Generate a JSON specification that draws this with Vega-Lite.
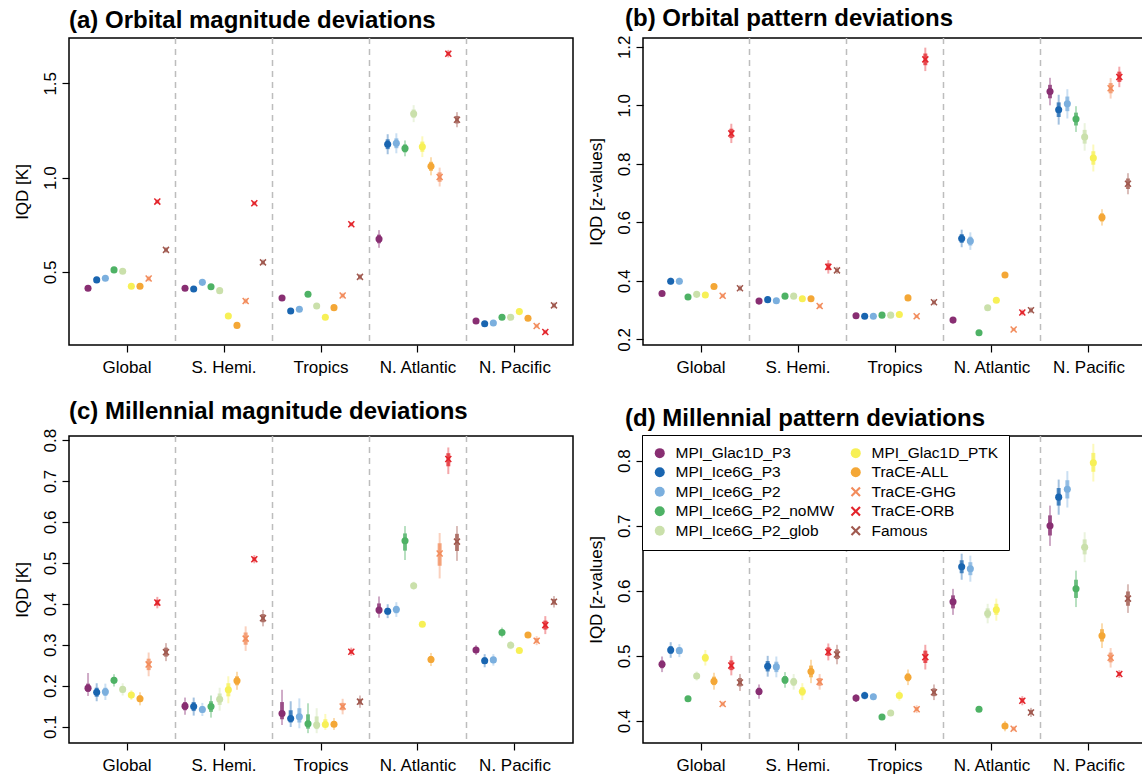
{
"$schema": "https://vega.github.io/schema/vega-lite/v6.json",
"padding": {"left": 12, "top": 6, "right": 0, "bottom": 0},
"bounds": "flush",
"columns": 2,
"spacing": {"row": 91, "column": 70},
"resolve": {"scale": {"color": "independent", "shape": "independent"}, "legend": {"color": "independent", "shape": "independent"}},
"config": {
  "font": "Liberation Sans",
  "view": {"stroke": "black", "strokeWidth": 1.5},
  "axis": {"domain": false, "grid": false, "tickColor": "black", "tickSize": 7, "tickWidth": 1.2, "labelColor": "black", "labelFontSize": 17, "titleFontSize": 17, "titleFontWeight": "normal", "titleColor": "black", "labelFont": "Liberation Sans", "titleFont": "Liberation Sans"},
  "axisY": {"labelAngle": 270, "labelAlign": "center", "labelBaseline": "bottom", "labelPadding": 3, "titlePadding": 10},
  "axisX": {"labelPadding": 7},
  "title": {"fontSize": 24, "fontWeight": "bold", "anchor": "start", "frame": "group", "color": "black", "font": "Liberation Sans", "offset": 4}
},
"datasets": {
"sep": [{"r": "S. Hemi."}, {"r": "Tropics"}, {"r": "N. Atlantic"}, {"r": "N. Pacific"}],
"d": [
{"p":"a","r":"Global","m":"MPI_Glac1D_P3","v":0.414,"lo":0.404,"hi":0.424,"l2":0.409,"h2":0.419},
{"p":"a","r":"Global","m":"MPI_Ice6G_P3","v":0.458,"lo":0.448,"hi":0.468,"l2":0.453,"h2":0.463},
{"p":"a","r":"Global","m":"MPI_Ice6G_P2","v":0.467,"lo":0.457,"hi":0.477,"l2":0.462,"h2":0.472},
{"p":"a","r":"Global","m":"MPI_Ice6G_P2_noMW","v":0.511,"lo":0.501,"hi":0.521,"l2":0.506,"h2":0.516},
{"p":"a","r":"Global","m":"MPI_Ice6G_P2_glob","v":0.504,"lo":0.494,"hi":0.514,"l2":0.499,"h2":0.509},
{"p":"a","r":"Global","m":"MPI_Glac1D_PTK","v":0.424,"lo":0.414,"hi":0.434,"l2":0.419,"h2":0.429},
{"p":"a","r":"Global","m":"TraCE-ALL","v":0.424,"lo":0.414,"hi":0.434,"l2":0.419,"h2":0.429},
{"p":"a","r":"Global","m":"TraCE-GHG","v":0.465,"lo":0.45,"hi":0.48,"l2":0.457,"h2":0.473},
{"p":"a","r":"Global","m":"TraCE-ORB","v":0.873,"lo":0.861,"hi":0.885,"l2":0.867,"h2":0.879},
{"p":"a","r":"Global","m":"Famous","v":0.617,"lo":0.602,"hi":0.632,"l2":0.609,"h2":0.625},
{"p":"a","r":"S. Hemi.","m":"MPI_Glac1D_P3","v":0.414,"lo":0.404,"hi":0.424,"l2":0.409,"h2":0.419},
{"p":"a","r":"S. Hemi.","m":"MPI_Ice6G_P3","v":0.41,"lo":0.4,"hi":0.42,"l2":0.405,"h2":0.415},
{"p":"a","r":"S. Hemi.","m":"MPI_Ice6G_P2","v":0.445,"lo":0.435,"hi":0.455,"l2":0.44,"h2":0.45},
{"p":"a","r":"S. Hemi.","m":"MPI_Ice6G_P2_noMW","v":0.422,"lo":0.412,"hi":0.432,"l2":0.417,"h2":0.427},
{"p":"a","r":"S. Hemi.","m":"MPI_Ice6G_P2_glob","v":0.401,"lo":0.391,"hi":0.411,"l2":0.396,"h2":0.406},
{"p":"a","r":"S. Hemi.","m":"MPI_Glac1D_PTK","v":0.267,"lo":0.257,"hi":0.277,"l2":0.262,"h2":0.272},
{"p":"a","r":"S. Hemi.","m":"TraCE-ALL","v":0.217,"lo":0.207,"hi":0.227,"l2":0.212,"h2":0.222},
{"p":"a","r":"S. Hemi.","m":"TraCE-GHG","v":0.346,"lo":0.331,"hi":0.361,"l2":0.338,"h2":0.354},
{"p":"a","r":"S. Hemi.","m":"TraCE-ORB","v":0.864,"lo":0.852,"hi":0.876,"l2":0.858,"h2":0.87},
{"p":"a","r":"S. Hemi.","m":"Famous","v":0.551,"lo":0.536,"hi":0.566,"l2":0.543,"h2":0.559},
{"p":"a","r":"Tropics","m":"MPI_Glac1D_P3","v":0.362,"lo":0.352,"hi":0.372,"l2":0.357,"h2":0.367},
{"p":"a","r":"Tropics","m":"MPI_Ice6G_P3","v":0.293,"lo":0.283,"hi":0.303,"l2":0.288,"h2":0.298},
{"p":"a","r":"Tropics","m":"MPI_Ice6G_P2","v":0.302,"lo":0.292,"hi":0.312,"l2":0.297,"h2":0.307},
{"p":"a","r":"Tropics","m":"MPI_Ice6G_P2_noMW","v":0.382,"lo":0.372,"hi":0.392,"l2":0.377,"h2":0.387},
{"p":"a","r":"Tropics","m":"MPI_Ice6G_P2_glob","v":0.32,"lo":0.31,"hi":0.33,"l2":0.315,"h2":0.325},
{"p":"a","r":"Tropics","m":"MPI_Glac1D_PTK","v":0.26,"lo":0.25,"hi":0.27,"l2":0.255,"h2":0.265},
{"p":"a","r":"Tropics","m":"TraCE-ALL","v":0.311,"lo":0.301,"hi":0.321,"l2":0.306,"h2":0.316},
{"p":"a","r":"Tropics","m":"TraCE-GHG","v":0.375,"lo":0.36,"hi":0.39,"l2":0.367,"h2":0.383},
{"p":"a","r":"Tropics","m":"TraCE-ORB","v":0.753,"lo":0.741,"hi":0.765,"l2":0.747,"h2":0.759},
{"p":"a","r":"Tropics","m":"Famous","v":0.474,"lo":0.459,"hi":0.489,"l2":0.466,"h2":0.482},
{"p":"a","r":"N. Atlantic","m":"MPI_Glac1D_P3","v":0.675,"lo":0.628,"hi":0.722,"l2":0.652,"h2":0.698},
{"p":"a","r":"N. Atlantic","m":"MPI_Ice6G_P3","v":1.177,"lo":1.124,"hi":1.23,"l2":1.151,"h2":1.203},
{"p":"a","r":"N. Atlantic","m":"MPI_Ice6G_P2","v":1.182,"lo":1.129,"hi":1.235,"l2":1.156,"h2":1.208},
{"p":"a","r":"N. Atlantic","m":"MPI_Ice6G_P2_noMW","v":1.155,"lo":1.113,"hi":1.197,"l2":1.134,"h2":1.176},
{"p":"a","r":"N. Atlantic","m":"MPI_Ice6G_P2_glob","v":1.339,"lo":1.294,"hi":1.384,"l2":1.317,"h2":1.361},
{"p":"a","r":"N. Atlantic","m":"MPI_Glac1D_PTK","v":1.164,"lo":1.109,"hi":1.219,"l2":1.137,"h2":1.191},
{"p":"a","r":"N. Atlantic","m":"TraCE-ALL","v":1.06,"lo":1.012,"hi":1.108,"l2":1.036,"h2":1.084},
{"p":"a","r":"N. Atlantic","m":"TraCE-GHG","v":1.003,"lo":0.953,"hi":1.053,"l2":0.978,"h2":1.028},
{"p":"a","r":"N. Atlantic","m":"TraCE-ORB","v":1.657,"lo":1.637,"hi":1.677,"l2":1.647,"h2":1.667},
{"p":"a","r":"N. Atlantic","m":"Famous","v":1.307,"lo":1.267,"hi":1.347,"l2":1.287,"h2":1.327},
{"p":"a","r":"N. Pacific","m":"MPI_Glac1D_P3","v":0.24,"lo":0.23,"hi":0.25,"l2":0.235,"h2":0.245},
{"p":"a","r":"N. Pacific","m":"MPI_Ice6G_P3","v":0.226,"lo":0.216,"hi":0.236,"l2":0.221,"h2":0.231},
{"p":"a","r":"N. Pacific","m":"MPI_Ice6G_P2","v":0.23,"lo":0.22,"hi":0.24,"l2":0.225,"h2":0.235},
{"p":"a","r":"N. Pacific","m":"MPI_Ice6G_P2_noMW","v":0.26,"lo":0.25,"hi":0.27,"l2":0.255,"h2":0.265},
{"p":"a","r":"N. Pacific","m":"MPI_Ice6G_P2_glob","v":0.26,"lo":0.25,"hi":0.27,"l2":0.255,"h2":0.265},
{"p":"a","r":"N. Pacific","m":"MPI_Glac1D_PTK","v":0.29,"lo":0.28,"hi":0.3,"l2":0.285,"h2":0.295},
{"p":"a","r":"N. Pacific","m":"TraCE-ALL","v":0.255,"lo":0.245,"hi":0.265,"l2":0.25,"h2":0.26},
{"p":"a","r":"N. Pacific","m":"TraCE-GHG","v":0.214,"lo":0.202,"hi":0.226,"l2":0.208,"h2":0.22},
{"p":"a","r":"N. Pacific","m":"TraCE-ORB","v":0.182,"lo":0.17,"hi":0.194,"l2":0.176,"h2":0.188},
{"p":"a","r":"N. Pacific","m":"Famous","v":0.323,"lo":0.308,"hi":0.338,"l2":0.315,"h2":0.331},

{"p":"b","r":"Global","m":"MPI_Glac1D_P3","v":0.357,"lo":0.349,"hi":0.365,"l2":0.353,"h2":0.361},
{"p":"b","r":"Global","m":"MPI_Ice6G_P3","v":0.399,"lo":0.387,"hi":0.411,"l2":0.393,"h2":0.405},
{"p":"b","r":"Global","m":"MPI_Ice6G_P2","v":0.399,"lo":0.387,"hi":0.411,"l2":0.393,"h2":0.405},
{"p":"b","r":"Global","m":"MPI_Ice6G_P2_noMW","v":0.345,"lo":0.337,"hi":0.353,"l2":0.341,"h2":0.349},
{"p":"b","r":"Global","m":"MPI_Ice6G_P2_glob","v":0.354,"lo":0.346,"hi":0.362,"l2":0.35,"h2":0.358},
{"p":"b","r":"Global","m":"MPI_Glac1D_PTK","v":0.352,"lo":0.344,"hi":0.36,"l2":0.348,"h2":0.356},
{"p":"b","r":"Global","m":"TraCE-ALL","v":0.381,"lo":0.373,"hi":0.389,"l2":0.377,"h2":0.385},
{"p":"b","r":"Global","m":"TraCE-GHG","v":0.349,"lo":0.341,"hi":0.357,"l2":0.345,"h2":0.353},
{"p":"b","r":"Global","m":"TraCE-ORB","v":0.904,"lo":0.871,"hi":0.937,"l2":0.888,"h2":0.92},
{"p":"b","r":"Global","m":"Famous","v":0.375,"lo":0.365,"hi":0.385,"l2":0.37,"h2":0.38},
{"p":"b","r":"S. Hemi.","m":"MPI_Glac1D_P3","v":0.331,"lo":0.323,"hi":0.339,"l2":0.327,"h2":0.335},
{"p":"b","r":"S. Hemi.","m":"MPI_Ice6G_P3","v":0.336,"lo":0.328,"hi":0.344,"l2":0.332,"h2":0.34},
{"p":"b","r":"S. Hemi.","m":"MPI_Ice6G_P2","v":0.332,"lo":0.324,"hi":0.34,"l2":0.328,"h2":0.336},
{"p":"b","r":"S. Hemi.","m":"MPI_Ice6G_P2_noMW","v":0.348,"lo":0.34,"hi":0.356,"l2":0.344,"h2":0.352},
{"p":"b","r":"S. Hemi.","m":"MPI_Ice6G_P2_glob","v":0.348,"lo":0.34,"hi":0.356,"l2":0.344,"h2":0.352},
{"p":"b","r":"S. Hemi.","m":"MPI_Glac1D_PTK","v":0.339,"lo":0.331,"hi":0.347,"l2":0.335,"h2":0.343},
{"p":"b","r":"S. Hemi.","m":"TraCE-ALL","v":0.339,"lo":0.331,"hi":0.347,"l2":0.335,"h2":0.343},
{"p":"b","r":"S. Hemi.","m":"TraCE-GHG","v":0.314,"lo":0.306,"hi":0.322,"l2":0.31,"h2":0.318},
{"p":"b","r":"S. Hemi.","m":"TraCE-ORB","v":0.448,"lo":0.425,"hi":0.471,"l2":0.437,"h2":0.46},
{"p":"b","r":"S. Hemi.","m":"Famous","v":0.436,"lo":0.424,"hi":0.448,"l2":0.43,"h2":0.442},
{"p":"b","r":"Tropics","m":"MPI_Glac1D_P3","v":0.281,"lo":0.275,"hi":0.287,"l2":0.278,"h2":0.284},
{"p":"b","r":"Tropics","m":"MPI_Ice6G_P3","v":0.279,"lo":0.273,"hi":0.285,"l2":0.276,"h2":0.282},
{"p":"b","r":"Tropics","m":"MPI_Ice6G_P2","v":0.279,"lo":0.273,"hi":0.285,"l2":0.276,"h2":0.282},
{"p":"b","r":"Tropics","m":"MPI_Ice6G_P2_noMW","v":0.283,"lo":0.277,"hi":0.289,"l2":0.28,"h2":0.286},
{"p":"b","r":"Tropics","m":"MPI_Ice6G_P2_glob","v":0.283,"lo":0.277,"hi":0.289,"l2":0.28,"h2":0.286},
{"p":"b","r":"Tropics","m":"MPI_Glac1D_PTK","v":0.285,"lo":0.279,"hi":0.291,"l2":0.282,"h2":0.288},
{"p":"b","r":"Tropics","m":"TraCE-ALL","v":0.342,"lo":0.336,"hi":0.348,"l2":0.339,"h2":0.345},
{"p":"b","r":"Tropics","m":"TraCE-GHG","v":0.279,"lo":0.273,"hi":0.285,"l2":0.276,"h2":0.282},
{"p":"b","r":"Tropics","m":"TraCE-ORB","v":1.157,"lo":1.117,"hi":1.197,"l2":1.137,"h2":1.177},
{"p":"b","r":"Tropics","m":"Famous","v":0.327,"lo":0.317,"hi":0.337,"l2":0.322,"h2":0.332},
{"p":"b","r":"N. Atlantic","m":"MPI_Glac1D_P3","v":0.266,"lo":0.26,"hi":0.272,"l2":0.263,"h2":0.269},
{"p":"b","r":"N. Atlantic","m":"MPI_Ice6G_P3","v":0.545,"lo":0.515,"hi":0.575,"l2":0.53,"h2":0.56},
{"p":"b","r":"N. Atlantic","m":"MPI_Ice6G_P2","v":0.536,"lo":0.506,"hi":0.566,"l2":0.521,"h2":0.551},
{"p":"b","r":"N. Atlantic","m":"MPI_Ice6G_P2_noMW","v":0.223,"lo":0.217,"hi":0.229,"l2":0.22,"h2":0.226},
{"p":"b","r":"N. Atlantic","m":"MPI_Ice6G_P2_glob","v":0.308,"lo":0.302,"hi":0.314,"l2":0.305,"h2":0.311},
{"p":"b","r":"N. Atlantic","m":"MPI_Glac1D_PTK","v":0.334,"lo":0.328,"hi":0.34,"l2":0.331,"h2":0.337},
{"p":"b","r":"N. Atlantic","m":"TraCE-ALL","v":0.42,"lo":0.41,"hi":0.43,"l2":0.415,"h2":0.425},
{"p":"b","r":"N. Atlantic","m":"TraCE-GHG","v":0.234,"lo":0.228,"hi":0.24,"l2":0.231,"h2":0.237},
{"p":"b","r":"N. Atlantic","m":"TraCE-ORB","v":0.292,"lo":0.282,"hi":0.302,"l2":0.287,"h2":0.297},
{"p":"b","r":"N. Atlantic","m":"Famous","v":0.3,"lo":0.29,"hi":0.31,"l2":0.295,"h2":0.305},
{"p":"b","r":"N. Pacific","m":"MPI_Glac1D_P3","v":1.047,"lo":1.0,"hi":1.094,"l2":1.024,"h2":1.07},
{"p":"b","r":"N. Pacific","m":"MPI_Ice6G_P3","v":0.985,"lo":0.934,"hi":1.036,"l2":0.96,"h2":1.01},
{"p":"b","r":"N. Pacific","m":"MPI_Ice6G_P2","v":1.005,"lo":0.955,"hi":1.055,"l2":0.98,"h2":1.03},
{"p":"b","r":"N. Pacific","m":"MPI_Ice6G_P2_noMW","v":0.953,"lo":0.909,"hi":0.997,"l2":0.931,"h2":0.975},
{"p":"b","r":"N. Pacific","m":"MPI_Ice6G_P2_glob","v":0.892,"lo":0.845,"hi":0.939,"l2":0.869,"h2":0.916},
{"p":"b","r":"N. Pacific","m":"MPI_Glac1D_PTK","v":0.82,"lo":0.774,"hi":0.866,"l2":0.797,"h2":0.843},
{"p":"b","r":"N. Pacific","m":"TraCE-ALL","v":0.617,"lo":0.589,"hi":0.645,"l2":0.603,"h2":0.631},
{"p":"b","r":"N. Pacific","m":"TraCE-GHG","v":1.058,"lo":1.023,"hi":1.093,"l2":1.041,"h2":1.076},
{"p":"b","r":"N. Pacific","m":"TraCE-ORB","v":1.097,"lo":1.062,"hi":1.132,"l2":1.08,"h2":1.115},
{"p":"b","r":"N. Pacific","m":"Famous","v":0.732,"lo":0.696,"hi":0.768,"l2":0.714,"h2":0.75},

{"p":"c","r":"Global","m":"MPI_Glac1D_P3","v":0.194,"lo":0.175,"hi":0.231,"l2":0.185,"h2":0.205},
{"p":"c","r":"Global","m":"MPI_Ice6G_P3","v":0.184,"lo":0.162,"hi":0.206,"l2":0.173,"h2":0.195},
{"p":"c","r":"Global","m":"MPI_Ice6G_P2","v":0.185,"lo":0.165,"hi":0.205,"l2":0.175,"h2":0.195},
{"p":"c","r":"Global","m":"MPI_Ice6G_P2_noMW","v":0.213,"lo":0.198,"hi":0.228,"l2":0.206,"h2":0.22},
{"p":"c","r":"Global","m":"MPI_Ice6G_P2_glob","v":0.191,"lo":0.176,"hi":0.206,"l2":0.184,"h2":0.198},
{"p":"c","r":"Global","m":"MPI_Glac1D_PTK","v":0.177,"lo":0.165,"hi":0.189,"l2":0.171,"h2":0.183},
{"p":"c","r":"Global","m":"TraCE-ALL","v":0.168,"lo":0.152,"hi":0.184,"l2":0.16,"h2":0.176},
{"p":"c","r":"Global","m":"TraCE-GHG","v":0.252,"lo":0.223,"hi":0.281,"l2":0.238,"h2":0.266},
{"p":"c","r":"Global","m":"TraCE-ORB","v":0.403,"lo":0.389,"hi":0.417,"l2":0.396,"h2":0.41},
{"p":"c","r":"Global","m":"Famous","v":0.282,"lo":0.26,"hi":0.304,"l2":0.271,"h2":0.293},
{"p":"c","r":"S. Hemi.","m":"MPI_Glac1D_P3","v":0.15,"lo":0.129,"hi":0.171,"l2":0.14,"h2":0.16},
{"p":"c","r":"S. Hemi.","m":"MPI_Ice6G_P3","v":0.149,"lo":0.127,"hi":0.171,"l2":0.138,"h2":0.16},
{"p":"c","r":"S. Hemi.","m":"MPI_Ice6G_P2","v":0.142,"lo":0.126,"hi":0.158,"l2":0.134,"h2":0.15},
{"p":"c","r":"S. Hemi.","m":"MPI_Ice6G_P2_noMW","v":0.149,"lo":0.122,"hi":0.176,"l2":0.136,"h2":0.162},
{"p":"c","r":"S. Hemi.","m":"MPI_Ice6G_P2_glob","v":0.167,"lo":0.139,"hi":0.195,"l2":0.153,"h2":0.181},
{"p":"c","r":"S. Hemi.","m":"MPI_Glac1D_PTK","v":0.19,"lo":0.157,"hi":0.223,"l2":0.174,"h2":0.206},
{"p":"c","r":"S. Hemi.","m":"TraCE-ALL","v":0.212,"lo":0.19,"hi":0.234,"l2":0.201,"h2":0.223},
{"p":"c","r":"S. Hemi.","m":"TraCE-GHG","v":0.315,"lo":0.285,"hi":0.345,"l2":0.3,"h2":0.33},
{"p":"c","r":"S. Hemi.","m":"TraCE-ORB","v":0.509,"lo":0.499,"hi":0.519,"l2":0.504,"h2":0.514},
{"p":"c","r":"S. Hemi.","m":"Famous","v":0.365,"lo":0.345,"hi":0.385,"l2":0.355,"h2":0.375},
{"p":"c","r":"Tropics","m":"MPI_Glac1D_P3","v":0.132,"lo":0.104,"hi":0.19,"l2":0.118,"h2":0.16},
{"p":"c","r":"Tropics","m":"MPI_Ice6G_P3","v":0.12,"lo":0.099,"hi":0.162,"l2":0.11,"h2":0.14},
{"p":"c","r":"Tropics","m":"MPI_Ice6G_P2","v":0.124,"lo":0.096,"hi":0.169,"l2":0.11,"h2":0.145},
{"p":"c","r":"Tropics","m":"MPI_Ice6G_P2_noMW","v":0.107,"lo":0.084,"hi":0.157,"l2":0.095,"h2":0.13},
{"p":"c","r":"Tropics","m":"MPI_Ice6G_P2_glob","v":0.104,"lo":0.084,"hi":0.145,"l2":0.094,"h2":0.125},
{"p":"c","r":"Tropics","m":"MPI_Glac1D_PTK","v":0.105,"lo":0.092,"hi":0.131,"l2":0.099,"h2":0.118},
{"p":"c","r":"Tropics","m":"TraCE-ALL","v":0.106,"lo":0.092,"hi":0.121,"l2":0.099,"h2":0.113},
{"p":"c","r":"Tropics","m":"TraCE-GHG","v":0.149,"lo":0.13,"hi":0.168,"l2":0.14,"h2":0.158},
{"p":"c","r":"Tropics","m":"TraCE-ORB","v":0.283,"lo":0.273,"hi":0.293,"l2":0.278,"h2":0.288},
{"p":"c","r":"Tropics","m":"Famous","v":0.161,"lo":0.146,"hi":0.176,"l2":0.154,"h2":0.168},
{"p":"c","r":"N. Atlantic","m":"MPI_Glac1D_P3","v":0.385,"lo":0.366,"hi":0.418,"l2":0.376,"h2":0.401},
{"p":"c","r":"N. Atlantic","m":"MPI_Ice6G_P3","v":0.382,"lo":0.365,"hi":0.399,"l2":0.374,"h2":0.39},
{"p":"c","r":"N. Atlantic","m":"MPI_Ice6G_P2","v":0.386,"lo":0.368,"hi":0.404,"l2":0.377,"h2":0.395},
{"p":"c","r":"N. Atlantic","m":"MPI_Ice6G_P2_noMW","v":0.554,"lo":0.507,"hi":0.59,"l2":0.53,"h2":0.572},
{"p":"c","r":"N. Atlantic","m":"MPI_Ice6G_P2_glob","v":0.444,"lo":0.434,"hi":0.454,"l2":0.439,"h2":0.449},
{"p":"c","r":"N. Atlantic","m":"MPI_Glac1D_PTK","v":0.35,"lo":0.344,"hi":0.356,"l2":0.347,"h2":0.353},
{"p":"c","r":"N. Atlantic","m":"TraCE-ALL","v":0.264,"lo":0.248,"hi":0.28,"l2":0.256,"h2":0.272},
{"p":"c","r":"N. Atlantic","m":"TraCE-GHG","v":0.523,"lo":0.462,"hi":0.573,"l2":0.493,"h2":0.548},
{"p":"c","r":"N. Atlantic","m":"TraCE-ORB","v":0.754,"lo":0.717,"hi":0.782,"l2":0.736,"h2":0.768},
{"p":"c","r":"N. Atlantic","m":"Famous","v":0.552,"lo":0.505,"hi":0.59,"l2":0.529,"h2":0.571},
{"p":"c","r":"N. Pacific","m":"MPI_Glac1D_P3","v":0.287,"lo":0.275,"hi":0.299,"l2":0.281,"h2":0.293},
{"p":"c","r":"N. Pacific","m":"MPI_Ice6G_P3","v":0.261,"lo":0.245,"hi":0.277,"l2":0.253,"h2":0.269},
{"p":"c","r":"N. Pacific","m":"MPI_Ice6G_P2","v":0.263,"lo":0.249,"hi":0.277,"l2":0.256,"h2":0.27},
{"p":"c","r":"N. Pacific","m":"MPI_Ice6G_P2_noMW","v":0.33,"lo":0.318,"hi":0.342,"l2":0.324,"h2":0.336},
{"p":"c","r":"N. Pacific","m":"MPI_Ice6G_P2_glob","v":0.299,"lo":0.289,"hi":0.309,"l2":0.294,"h2":0.304},
{"p":"c","r":"N. Pacific","m":"MPI_Glac1D_PTK","v":0.286,"lo":0.28,"hi":0.292,"l2":0.283,"h2":0.289},
{"p":"c","r":"N. Pacific","m":"TraCE-ALL","v":0.324,"lo":0.318,"hi":0.33,"l2":0.321,"h2":0.327},
{"p":"c","r":"N. Pacific","m":"TraCE-GHG","v":0.31,"lo":0.299,"hi":0.321,"l2":0.305,"h2":0.316},
{"p":"c","r":"N. Pacific","m":"TraCE-ORB","v":0.348,"lo":0.326,"hi":0.37,"l2":0.337,"h2":0.359},
{"p":"c","r":"N. Pacific","m":"Famous","v":0.405,"lo":0.391,"hi":0.419,"l2":0.398,"h2":0.412},

{"p":"d","r":"Global","m":"MPI_Glac1D_P3","v":0.487,"lo":0.475,"hi":0.499,"l2":0.481,"h2":0.493},
{"p":"d","r":"Global","m":"MPI_Ice6G_P3","v":0.509,"lo":0.497,"hi":0.521,"l2":0.503,"h2":0.515},
{"p":"d","r":"Global","m":"MPI_Ice6G_P2","v":0.508,"lo":0.498,"hi":0.518,"l2":0.503,"h2":0.513},
{"p":"d","r":"Global","m":"MPI_Ice6G_P2_noMW","v":0.434,"lo":0.43,"hi":0.438,"l2":0.432,"h2":0.436},
{"p":"d","r":"Global","m":"MPI_Ice6G_P2_glob","v":0.469,"lo":0.462,"hi":0.476,"l2":0.466,"h2":0.473},
{"p":"d","r":"Global","m":"MPI_Glac1D_PTK","v":0.497,"lo":0.485,"hi":0.509,"l2":0.491,"h2":0.503},
{"p":"d","r":"Global","m":"TraCE-ALL","v":0.461,"lo":0.448,"hi":0.474,"l2":0.455,"h2":0.468},
{"p":"d","r":"Global","m":"TraCE-GHG","v":0.426,"lo":0.422,"hi":0.43,"l2":0.424,"h2":0.428},
{"p":"d","r":"Global","m":"TraCE-ORB","v":0.485,"lo":0.47,"hi":0.5,"l2":0.478,"h2":0.493},
{"p":"d","r":"Global","m":"Famous","v":0.459,"lo":0.446,"hi":0.472,"l2":0.453,"h2":0.466},
{"p":"d","r":"S. Hemi.","m":"MPI_Glac1D_P3","v":0.445,"lo":0.434,"hi":0.456,"l2":0.44,"h2":0.451},
{"p":"d","r":"S. Hemi.","m":"MPI_Ice6G_P3","v":0.484,"lo":0.468,"hi":0.5,"l2":0.476,"h2":0.492},
{"p":"d","r":"S. Hemi.","m":"MPI_Ice6G_P2","v":0.483,"lo":0.467,"hi":0.499,"l2":0.475,"h2":0.491},
{"p":"d","r":"S. Hemi.","m":"MPI_Ice6G_P2_noMW","v":0.463,"lo":0.451,"hi":0.475,"l2":0.457,"h2":0.469},
{"p":"d","r":"S. Hemi.","m":"MPI_Ice6G_P2_glob","v":0.46,"lo":0.448,"hi":0.472,"l2":0.454,"h2":0.466},
{"p":"d","r":"S. Hemi.","m":"MPI_Glac1D_PTK","v":0.445,"lo":0.432,"hi":0.458,"l2":0.439,"h2":0.452},
{"p":"d","r":"S. Hemi.","m":"TraCE-ALL","v":0.476,"lo":0.458,"hi":0.494,"l2":0.467,"h2":0.485},
{"p":"d","r":"S. Hemi.","m":"TraCE-GHG","v":0.46,"lo":0.448,"hi":0.472,"l2":0.454,"h2":0.466},
{"p":"d","r":"S. Hemi.","m":"TraCE-ORB","v":0.506,"lo":0.493,"hi":0.519,"l2":0.5,"h2":0.513},
{"p":"d","r":"S. Hemi.","m":"Famous","v":0.502,"lo":0.487,"hi":0.517,"l2":0.495,"h2":0.51},
{"p":"d","r":"Tropics","m":"MPI_Glac1D_P3","v":0.435,"lo":0.429,"hi":0.441,"l2":0.432,"h2":0.438},
{"p":"d","r":"Tropics","m":"MPI_Ice6G_P3","v":0.439,"lo":0.433,"hi":0.445,"l2":0.436,"h2":0.442},
{"p":"d","r":"Tropics","m":"MPI_Ice6G_P2","v":0.437,"lo":0.432,"hi":0.442,"l2":0.435,"h2":0.44},
{"p":"d","r":"Tropics","m":"MPI_Ice6G_P2_noMW","v":0.406,"lo":0.402,"hi":0.41,"l2":0.404,"h2":0.408},
{"p":"d","r":"Tropics","m":"MPI_Ice6G_P2_glob","v":0.412,"lo":0.408,"hi":0.416,"l2":0.41,"h2":0.414},
{"p":"d","r":"Tropics","m":"MPI_Glac1D_PTK","v":0.439,"lo":0.431,"hi":0.447,"l2":0.435,"h2":0.443},
{"p":"d","r":"Tropics","m":"TraCE-ALL","v":0.467,"lo":0.455,"hi":0.479,"l2":0.461,"h2":0.473},
{"p":"d","r":"Tropics","m":"TraCE-GHG","v":0.418,"lo":0.412,"hi":0.424,"l2":0.415,"h2":0.421},
{"p":"d","r":"Tropics","m":"TraCE-ORB","v":0.498,"lo":0.479,"hi":0.517,"l2":0.489,"h2":0.508},
{"p":"d","r":"Tropics","m":"Famous","v":0.444,"lo":0.432,"hi":0.456,"l2":0.438,"h2":0.45},
{"p":"d","r":"N. Atlantic","m":"MPI_Glac1D_P3","v":0.583,"lo":0.563,"hi":0.603,"l2":0.573,"h2":0.593},
{"p":"d","r":"N. Atlantic","m":"MPI_Ice6G_P3","v":0.637,"lo":0.617,"hi":0.657,"l2":0.627,"h2":0.647},
{"p":"d","r":"N. Atlantic","m":"MPI_Ice6G_P2","v":0.634,"lo":0.614,"hi":0.654,"l2":0.624,"h2":0.644},
{"p":"d","r":"N. Atlantic","m":"MPI_Ice6G_P2_noMW","v":0.418,"lo":0.414,"hi":0.422,"l2":0.416,"h2":0.42},
{"p":"d","r":"N. Atlantic","m":"MPI_Ice6G_P2_glob","v":0.565,"lo":0.55,"hi":0.58,"l2":0.558,"h2":0.573},
{"p":"d","r":"N. Atlantic","m":"MPI_Glac1D_PTK","v":0.571,"lo":0.554,"hi":0.588,"l2":0.563,"h2":0.58},
{"p":"d","r":"N. Atlantic","m":"TraCE-ALL","v":0.392,"lo":0.384,"hi":0.4,"l2":0.388,"h2":0.396},
{"p":"d","r":"N. Atlantic","m":"TraCE-GHG","v":0.388,"lo":0.384,"hi":0.392,"l2":0.386,"h2":0.39},
{"p":"d","r":"N. Atlantic","m":"TraCE-ORB","v":0.431,"lo":0.424,"hi":0.438,"l2":0.428,"h2":0.435},
{"p":"d","r":"N. Atlantic","m":"Famous","v":0.413,"lo":0.406,"hi":0.42,"l2":0.41,"h2":0.417},
{"p":"d","r":"N. Pacific","m":"MPI_Glac1D_P3","v":0.7,"lo":0.669,"hi":0.731,"l2":0.685,"h2":0.716},
{"p":"d","r":"N. Pacific","m":"MPI_Ice6G_P3","v":0.744,"lo":0.717,"hi":0.771,"l2":0.731,"h2":0.758},
{"p":"d","r":"N. Pacific","m":"MPI_Ice6G_P2","v":0.756,"lo":0.728,"hi":0.784,"l2":0.742,"h2":0.77},
{"p":"d","r":"N. Pacific","m":"MPI_Ice6G_P2_noMW","v":0.603,"lo":0.575,"hi":0.631,"l2":0.589,"h2":0.617},
{"p":"d","r":"N. Pacific","m":"MPI_Ice6G_P2_glob","v":0.667,"lo":0.644,"hi":0.69,"l2":0.656,"h2":0.679},
{"p":"d","r":"N. Pacific","m":"MPI_Glac1D_PTK","v":0.797,"lo":0.768,"hi":0.826,"l2":0.783,"h2":0.812},
{"p":"d","r":"N. Pacific","m":"TraCE-ALL","v":0.531,"lo":0.512,"hi":0.55,"l2":0.522,"h2":0.541},
{"p":"d","r":"N. Pacific","m":"TraCE-GHG","v":0.497,"lo":0.482,"hi":0.512,"l2":0.49,"h2":0.505},
{"p":"d","r":"N. Pacific","m":"TraCE-ORB","v":0.472,"lo":0.466,"hi":0.478,"l2":0.469,"h2":0.475},
{"p":"d","r":"N. Pacific","m":"Famous","v":0.588,"lo":0.566,"hi":0.61,"l2":0.577,"h2":0.599}
]
},
"concat": [
{
 "width": 504, "height": 307,
 "title": {"text": "(a) Orbital magnitude deviations"},
 "encoding": {"x": {"field": "r", "type": "nominal", "title": null, "scale": {"domain": ["Global", "S. Hemi.", "Tropics", "N. Atlantic", "N. Pacific"], "paddingInner": 0, "paddingOuter": 0.098}, "axis": {"labelAngle": 0, "bandPosition": 0.5}}},
 "layer": [
  {"data": {"name": "sep"}, "mark": {"type": "rule", "color": "#BDBDBD", "strokeWidth": 1.5, "strokeDash": [6, 5]},
   "encoding": {"x": {"field": "r", "type": "nominal", "title": null, "bandPosition": 0, "scale": {"domain": ["Global", "S. Hemi.", "Tropics", "N. Atlantic", "N. Pacific"], "paddingInner": 0, "paddingOuter": 0.098}, "axis": {"labelAngle": 0, "bandPosition": 0.5}}}},
  {"data": {"name": "d"}, "transform": [{"filter": "datum.p == 'a'"}], "mark": {"type": "rule", "strokeWidth": 2, "opacity": 0.4},
   "encoding": {
    "xOffset": {"field": "m", "type": "nominal", "scale": {"domain": ["MPI_Glac1D_P3","MPI_Ice6G_P3","MPI_Ice6G_P2","MPI_Ice6G_P2_noMW","MPI_Ice6G_P2_glob","MPI_Glac1D_PTK","TraCE-ALL","TraCE-GHG","TraCE-ORB","Famous"], "paddingInner": 0, "paddingOuter": 0.6}},
    "y": {"field": "lo", "type": "quantitative", "title": "IQD [K]", "scale": {"domain": [0.113, 1.74], "nice": false, "zero": false}, "axis": {"values": [0.5, 1, 1.5], "format": ".1f"}},
    "y2": {"field": "hi"},
    "color": {"field": "m", "type": "nominal", "scale": {"domain": ["MPI_Glac1D_P3","MPI_Ice6G_P3","MPI_Ice6G_P2","MPI_Ice6G_P2_noMW","MPI_Ice6G_P2_glob","MPI_Glac1D_PTK","TraCE-ALL","TraCE-GHG","TraCE-ORB","Famous"], "range": ["#882E72","#1965B0","#7BAFDE","#4EB265","#CAE0AB","#F7F056","#F4A736","#F28C5C","#E3242B","#A0594F"]}, "legend": null}
   }},
  {"data": {"name": "d"}, "transform": [{"filter": "datum.p == 'a'"}], "mark": {"type": "rule", "strokeWidth": 4, "opacity": 0.75},
   "encoding": {
    "xOffset": {"field": "m", "type": "nominal", "scale": {"domain": ["MPI_Glac1D_P3","MPI_Ice6G_P3","MPI_Ice6G_P2","MPI_Ice6G_P2_noMW","MPI_Ice6G_P2_glob","MPI_Glac1D_PTK","TraCE-ALL","TraCE-GHG","TraCE-ORB","Famous"], "paddingInner": 0, "paddingOuter": 0.6}},
    "y": {"field": "l2", "type": "quantitative", "title": "IQD [K]", "scale": {"domain": [0.113, 1.74], "nice": false, "zero": false}, "axis": {"values": [0.5, 1, 1.5], "format": ".1f"}},
    "y2": {"field": "h2"},
    "color": {"field": "m", "type": "nominal", "scale": {"domain": ["MPI_Glac1D_P3","MPI_Ice6G_P3","MPI_Ice6G_P2","MPI_Ice6G_P2_noMW","MPI_Ice6G_P2_glob","MPI_Glac1D_PTK","TraCE-ALL","TraCE-GHG","TraCE-ORB","Famous"], "range": ["#882E72","#1965B0","#7BAFDE","#4EB265","#CAE0AB","#F7F056","#F4A736","#F28C5C","#E3242B","#A0594F"]}, "legend": null}
   }},
  {"data": {"name": "d"}, "transform": [{"filter": "datum.p == 'a'"}], "mark": {"type": "point", "filled": true, "size": 50, "opacity": 1},
   "encoding": {
    "xOffset": {"field": "m", "type": "nominal", "scale": {"domain": ["MPI_Glac1D_P3","MPI_Ice6G_P3","MPI_Ice6G_P2","MPI_Ice6G_P2_noMW","MPI_Ice6G_P2_glob","MPI_Glac1D_PTK","TraCE-ALL","TraCE-GHG","TraCE-ORB","Famous"], "paddingInner": 0, "paddingOuter": 0.6}},
    "y": {"field": "v", "type": "quantitative", "title": "IQD [K]", "scale": {"domain": [0.113, 1.74], "nice": false, "zero": false}, "axis": {"values": [0.5, 1, 1.5], "format": ".1f"}},
    "color": {"field": "m", "type": "nominal", "scale": {"domain": ["MPI_Glac1D_P3","MPI_Ice6G_P3","MPI_Ice6G_P2","MPI_Ice6G_P2_noMW","MPI_Ice6G_P2_glob","MPI_Glac1D_PTK","TraCE-ALL","TraCE-GHG","TraCE-ORB","Famous"], "range": ["#882E72","#1965B0","#7BAFDE","#4EB265","#CAE0AB","#F7F056","#F4A736","#F28C5C","#E3242B","#A0594F"]}, "legend": null},
    "shape": {"field": "m", "type": "nominal", "scale": {"domain": ["MPI_Glac1D_P3","MPI_Ice6G_P3","MPI_Ice6G_P2","MPI_Ice6G_P2_noMW","MPI_Ice6G_P2_glob","MPI_Glac1D_PTK","TraCE-ALL","TraCE-GHG","TraCE-ORB","Famous"], "range": ["circle","circle","circle","circle","circle","circle","circle","M-1,-0.7L-0.7,-1L0,-0.3L0.7,-1L1,-0.7L0.3,0L1,0.7L0.7,1L0,0.3L-0.7,1L-1,0.7L-0.3,0Z","M-1,-0.7L-0.7,-1L0,-0.3L0.7,-1L1,-0.7L0.3,0L1,0.7L0.7,1L0,0.3L-0.7,1L-1,0.7L-0.3,0Z","M-1,-0.7L-0.7,-1L0,-0.3L0.7,-1L1,-0.7L0.3,0L1,0.7L0.7,1L0,0.3L-0.7,1L-1,0.7L-0.3,0Z"]}, "legend": null}
   }}
 ]
},
{
 "width": 504, "height": 307,
 "title": {"text": "(b) Orbital pattern deviations", "dx": -18},
 "encoding": {"x": {"field": "r", "type": "nominal", "title": null, "scale": {"domain": ["Global", "S. Hemi.", "Tropics", "N. Atlantic", "N. Pacific"], "paddingInner": 0, "paddingOuter": 0.098}, "axis": {"labelAngle": 0, "bandPosition": 0.5}}},
 "layer": [
  {"data": {"name": "sep"}, "mark": {"type": "rule", "color": "#BDBDBD", "strokeWidth": 1.5, "strokeDash": [6, 5]},
   "encoding": {"x": {"field": "r", "type": "nominal", "title": null, "bandPosition": 0, "scale": {"domain": ["Global", "S. Hemi.", "Tropics", "N. Atlantic", "N. Pacific"], "paddingInner": 0, "paddingOuter": 0.098}, "axis": {"labelAngle": 0, "bandPosition": 0.5}}}},
  {"data": {"name": "d"}, "transform": [{"filter": "datum.p == 'b'"}], "mark": {"type": "rule", "strokeWidth": 2, "opacity": 0.4},
   "encoding": {
    "xOffset": {"field": "m", "type": "nominal", "scale": {"domain": ["MPI_Glac1D_P3","MPI_Ice6G_P3","MPI_Ice6G_P2","MPI_Ice6G_P2_noMW","MPI_Ice6G_P2_glob","MPI_Glac1D_PTK","TraCE-ALL","TraCE-GHG","TraCE-ORB","Famous"], "paddingInner": 0, "paddingOuter": 0.6}},
    "y": {"field": "lo", "type": "quantitative", "title": "IQD [z-values]", "scale": {"domain": [0.181, 1.23], "nice": false, "zero": false}, "axis": {"values": [0.2, 0.4, 0.6, 0.8, 1.0, 1.2], "format": ".1f"}},
    "y2": {"field": "hi"},
    "color": {"field": "m", "type": "nominal", "scale": {"domain": ["MPI_Glac1D_P3","MPI_Ice6G_P3","MPI_Ice6G_P2","MPI_Ice6G_P2_noMW","MPI_Ice6G_P2_glob","MPI_Glac1D_PTK","TraCE-ALL","TraCE-GHG","TraCE-ORB","Famous"], "range": ["#882E72","#1965B0","#7BAFDE","#4EB265","#CAE0AB","#F7F056","#F4A736","#F28C5C","#E3242B","#A0594F"]}, "legend": null}
   }},
  {"data": {"name": "d"}, "transform": [{"filter": "datum.p == 'b'"}], "mark": {"type": "rule", "strokeWidth": 4, "opacity": 0.75},
   "encoding": {
    "xOffset": {"field": "m", "type": "nominal", "scale": {"domain": ["MPI_Glac1D_P3","MPI_Ice6G_P3","MPI_Ice6G_P2","MPI_Ice6G_P2_noMW","MPI_Ice6G_P2_glob","MPI_Glac1D_PTK","TraCE-ALL","TraCE-GHG","TraCE-ORB","Famous"], "paddingInner": 0, "paddingOuter": 0.6}},
    "y": {"field": "l2", "type": "quantitative", "title": "IQD [z-values]", "scale": {"domain": [0.181, 1.23], "nice": false, "zero": false}, "axis": {"values": [0.2, 0.4, 0.6, 0.8, 1.0, 1.2], "format": ".1f"}},
    "y2": {"field": "h2"},
    "color": {"field": "m", "type": "nominal", "scale": {"domain": ["MPI_Glac1D_P3","MPI_Ice6G_P3","MPI_Ice6G_P2","MPI_Ice6G_P2_noMW","MPI_Ice6G_P2_glob","MPI_Glac1D_PTK","TraCE-ALL","TraCE-GHG","TraCE-ORB","Famous"], "range": ["#882E72","#1965B0","#7BAFDE","#4EB265","#CAE0AB","#F7F056","#F4A736","#F28C5C","#E3242B","#A0594F"]}, "legend": null}
   }},
  {"data": {"name": "d"}, "transform": [{"filter": "datum.p == 'b'"}], "mark": {"type": "point", "filled": true, "size": 50, "opacity": 1},
   "encoding": {
    "xOffset": {"field": "m", "type": "nominal", "scale": {"domain": ["MPI_Glac1D_P3","MPI_Ice6G_P3","MPI_Ice6G_P2","MPI_Ice6G_P2_noMW","MPI_Ice6G_P2_glob","MPI_Glac1D_PTK","TraCE-ALL","TraCE-GHG","TraCE-ORB","Famous"], "paddingInner": 0, "paddingOuter": 0.6}},
    "y": {"field": "v", "type": "quantitative", "title": "IQD [z-values]", "scale": {"domain": [0.181, 1.23], "nice": false, "zero": false}, "axis": {"values": [0.2, 0.4, 0.6, 0.8, 1.0, 1.2], "format": ".1f"}},
    "color": {"field": "m", "type": "nominal", "scale": {"domain": ["MPI_Glac1D_P3","MPI_Ice6G_P3","MPI_Ice6G_P2","MPI_Ice6G_P2_noMW","MPI_Ice6G_P2_glob","MPI_Glac1D_PTK","TraCE-ALL","TraCE-GHG","TraCE-ORB","Famous"], "range": ["#882E72","#1965B0","#7BAFDE","#4EB265","#CAE0AB","#F7F056","#F4A736","#F28C5C","#E3242B","#A0594F"]}, "legend": null},
    "shape": {"field": "m", "type": "nominal", "scale": {"domain": ["MPI_Glac1D_P3","MPI_Ice6G_P3","MPI_Ice6G_P2","MPI_Ice6G_P2_noMW","MPI_Ice6G_P2_glob","MPI_Glac1D_PTK","TraCE-ALL","TraCE-GHG","TraCE-ORB","Famous"], "range": ["circle","circle","circle","circle","circle","circle","circle","M-1,-0.7L-0.7,-1L0,-0.3L0.7,-1L1,-0.7L0.3,0L1,0.7L0.7,1L0,0.3L-0.7,1L-1,0.7L-0.3,0Z","M-1,-0.7L-0.7,-1L0,-0.3L0.7,-1L1,-0.7L0.3,0L1,0.7L0.7,1L0,0.3L-0.7,1L-1,0.7L-0.3,0Z","M-1,-0.7L-0.7,-1L0,-0.3L0.7,-1L1,-0.7L0.3,0L1,0.7L0.7,1L0,0.3L-0.7,1L-1,0.7L-0.3,0Z"]}, "legend": null}
   }}
 ]
},
{
 "width": 504, "height": 307,
 "title": {"text": "(c) Millennial magnitude deviations"},
 "encoding": {"x": {"field": "r", "type": "nominal", "title": null, "scale": {"domain": ["Global", "S. Hemi.", "Tropics", "N. Atlantic", "N. Pacific"], "paddingInner": 0, "paddingOuter": 0.098}, "axis": {"labelAngle": 0, "bandPosition": 0.5}}},
 "layer": [
  {"data": {"name": "sep"}, "mark": {"type": "rule", "color": "#BDBDBD", "strokeWidth": 1.5, "strokeDash": [6, 5]},
   "encoding": {"x": {"field": "r", "type": "nominal", "title": null, "bandPosition": 0, "scale": {"domain": ["Global", "S. Hemi.", "Tropics", "N. Atlantic", "N. Pacific"], "paddingInner": 0, "paddingOuter": 0.098}, "axis": {"labelAngle": 0, "bandPosition": 0.5}}}},
  {"data": {"name": "d"}, "transform": [{"filter": "datum.p == 'c'"}], "mark": {"type": "rule", "strokeWidth": 2, "opacity": 0.4},
   "encoding": {
    "xOffset": {"field": "m", "type": "nominal", "scale": {"domain": ["MPI_Glac1D_P3","MPI_Ice6G_P3","MPI_Ice6G_P2","MPI_Ice6G_P2_noMW","MPI_Ice6G_P2_glob","MPI_Glac1D_PTK","TraCE-ALL","TraCE-GHG","TraCE-ORB","Famous"], "paddingInner": 0, "paddingOuter": 0.6}},
    "y": {"field": "lo", "type": "quantitative", "title": "IQD [K]", "scale": {"domain": [0.06, 0.81], "nice": false, "zero": false}, "axis": {"values": [0.1, 0.2, 0.3, 0.4, 0.5, 0.6, 0.7, 0.8], "format": ".1f"}},
    "y2": {"field": "hi"},
    "color": {"field": "m", "type": "nominal", "scale": {"domain": ["MPI_Glac1D_P3","MPI_Ice6G_P3","MPI_Ice6G_P2","MPI_Ice6G_P2_noMW","MPI_Ice6G_P2_glob","MPI_Glac1D_PTK","TraCE-ALL","TraCE-GHG","TraCE-ORB","Famous"], "range": ["#882E72","#1965B0","#7BAFDE","#4EB265","#CAE0AB","#F7F056","#F4A736","#F28C5C","#E3242B","#A0594F"]}, "legend": null}
   }},
  {"data": {"name": "d"}, "transform": [{"filter": "datum.p == 'c'"}], "mark": {"type": "rule", "strokeWidth": 4, "opacity": 0.75},
   "encoding": {
    "xOffset": {"field": "m", "type": "nominal", "scale": {"domain": ["MPI_Glac1D_P3","MPI_Ice6G_P3","MPI_Ice6G_P2","MPI_Ice6G_P2_noMW","MPI_Ice6G_P2_glob","MPI_Glac1D_PTK","TraCE-ALL","TraCE-GHG","TraCE-ORB","Famous"], "paddingInner": 0, "paddingOuter": 0.6}},
    "y": {"field": "l2", "type": "quantitative", "title": "IQD [K]", "scale": {"domain": [0.06, 0.81], "nice": false, "zero": false}, "axis": {"values": [0.1, 0.2, 0.3, 0.4, 0.5, 0.6, 0.7, 0.8], "format": ".1f"}},
    "y2": {"field": "h2"},
    "color": {"field": "m", "type": "nominal", "scale": {"domain": ["MPI_Glac1D_P3","MPI_Ice6G_P3","MPI_Ice6G_P2","MPI_Ice6G_P2_noMW","MPI_Ice6G_P2_glob","MPI_Glac1D_PTK","TraCE-ALL","TraCE-GHG","TraCE-ORB","Famous"], "range": ["#882E72","#1965B0","#7BAFDE","#4EB265","#CAE0AB","#F7F056","#F4A736","#F28C5C","#E3242B","#A0594F"]}, "legend": null}
   }},
  {"data": {"name": "d"}, "transform": [{"filter": "datum.p == 'c'"}], "mark": {"type": "point", "filled": true, "size": 50, "opacity": 1},
   "encoding": {
    "xOffset": {"field": "m", "type": "nominal", "scale": {"domain": ["MPI_Glac1D_P3","MPI_Ice6G_P3","MPI_Ice6G_P2","MPI_Ice6G_P2_noMW","MPI_Ice6G_P2_glob","MPI_Glac1D_PTK","TraCE-ALL","TraCE-GHG","TraCE-ORB","Famous"], "paddingInner": 0, "paddingOuter": 0.6}},
    "y": {"field": "v", "type": "quantitative", "title": "IQD [K]", "scale": {"domain": [0.06, 0.81], "nice": false, "zero": false}, "axis": {"values": [0.1, 0.2, 0.3, 0.4, 0.5, 0.6, 0.7, 0.8], "format": ".1f"}},
    "color": {"field": "m", "type": "nominal", "scale": {"domain": ["MPI_Glac1D_P3","MPI_Ice6G_P3","MPI_Ice6G_P2","MPI_Ice6G_P2_noMW","MPI_Ice6G_P2_glob","MPI_Glac1D_PTK","TraCE-ALL","TraCE-GHG","TraCE-ORB","Famous"], "range": ["#882E72","#1965B0","#7BAFDE","#4EB265","#CAE0AB","#F7F056","#F4A736","#F28C5C","#E3242B","#A0594F"]}, "legend": null},
    "shape": {"field": "m", "type": "nominal", "scale": {"domain": ["MPI_Glac1D_P3","MPI_Ice6G_P3","MPI_Ice6G_P2","MPI_Ice6G_P2_noMW","MPI_Ice6G_P2_glob","MPI_Glac1D_PTK","TraCE-ALL","TraCE-GHG","TraCE-ORB","Famous"], "range": ["circle","circle","circle","circle","circle","circle","circle","M-1,-0.7L-0.7,-1L0,-0.3L0.7,-1L1,-0.7L0.3,0L1,0.7L0.7,1L0,0.3L-0.7,1L-1,0.7L-0.3,0Z","M-1,-0.7L-0.7,-1L0,-0.3L0.7,-1L1,-0.7L0.3,0L1,0.7L0.7,1L0,0.3L-0.7,1L-1,0.7L-0.3,0Z","M-1,-0.7L-0.7,-1L0,-0.3L0.7,-1L1,-0.7L0.3,0L1,0.7L0.7,1L0,0.3L-0.7,1L-1,0.7L-0.3,0Z"]}, "legend": null}
   }}
 ]
},
{
 "width": 504, "height": 307,
 "title": {"text": "(d) Millennial pattern deviations", "dx": -18},
 "encoding": {"x": {"field": "r", "type": "nominal", "title": null, "scale": {"domain": ["Global", "S. Hemi.", "Tropics", "N. Atlantic", "N. Pacific"], "paddingInner": 0, "paddingOuter": 0.098}, "axis": {"labelAngle": 0, "bandPosition": 0.5}}},
 "layer": [
  {"data": {"name": "sep"}, "mark": {"type": "rule", "color": "#BDBDBD", "strokeWidth": 1.5, "strokeDash": [6, 5]},
   "encoding": {"x": {"field": "r", "type": "nominal", "title": null, "bandPosition": 0, "scale": {"domain": ["Global", "S. Hemi.", "Tropics", "N. Atlantic", "N. Pacific"], "paddingInner": 0, "paddingOuter": 0.098}, "axis": {"labelAngle": 0, "bandPosition": 0.5}}}},
  {"data": {"name": "d"}, "transform": [{"filter": "datum.p == 'd'"}], "mark": {"type": "rule", "strokeWidth": 2, "opacity": 0.4},
   "encoding": {
    "xOffset": {"field": "m", "type": "nominal", "scale": {"domain": ["MPI_Glac1D_P3","MPI_Ice6G_P3","MPI_Ice6G_P2","MPI_Ice6G_P2_noMW","MPI_Ice6G_P2_glob","MPI_Glac1D_PTK","TraCE-ALL","TraCE-GHG","TraCE-ORB","Famous"], "paddingInner": 0, "paddingOuter": 0.6}},
    "y": {"field": "lo", "type": "quantitative", "title": "IQD [z-values]", "scale": {"domain": [0.366, 0.838], "nice": false, "zero": false}, "axis": {"values": [0.4, 0.5, 0.6, 0.7, 0.8], "format": ".1f"}},
    "y2": {"field": "hi"},
    "color": {"field": "m", "type": "nominal", "scale": {"domain": ["MPI_Glac1D_P3","MPI_Ice6G_P3","MPI_Ice6G_P2","MPI_Ice6G_P2_noMW","MPI_Ice6G_P2_glob","MPI_Glac1D_PTK","TraCE-ALL","TraCE-GHG","TraCE-ORB","Famous"], "range": ["#882E72","#1965B0","#7BAFDE","#4EB265","#CAE0AB","#F7F056","#F4A736","#F28C5C","#E3242B","#A0594F"]},
      "legend": {"orient": "none", "legendX": -1, "legendY": -1, "columns": 2, "title": null, "strokeColor": "black", "fillColor": "white", "padding": 10, "labelFontSize": 15.5, "labelColor": "black", "labelFont": "Liberation Sans", "symbolSize": 100, "rowPadding": 2.5, "columnPadding": 13, "labelOffset": 8, "symbolOpacity": 1, "symbolStrokeWidth": 0, "labelExpr": "datum.label == 'MPI_Glac1D_PTK' ? datum.label + '\u00a0\u00a0\u00a0\u00a0\u00a0\u00a0' : datum.label"}}
   }},
  {"data": {"name": "d"}, "transform": [{"filter": "datum.p == 'd'"}], "mark": {"type": "rule", "strokeWidth": 4, "opacity": 0.75},
   "encoding": {
    "xOffset": {"field": "m", "type": "nominal", "scale": {"domain": ["MPI_Glac1D_P3","MPI_Ice6G_P3","MPI_Ice6G_P2","MPI_Ice6G_P2_noMW","MPI_Ice6G_P2_glob","MPI_Glac1D_PTK","TraCE-ALL","TraCE-GHG","TraCE-ORB","Famous"], "paddingInner": 0, "paddingOuter": 0.6}},
    "y": {"field": "l2", "type": "quantitative", "title": "IQD [z-values]", "scale": {"domain": [0.366, 0.838], "nice": false, "zero": false}, "axis": {"values": [0.4, 0.5, 0.6, 0.7, 0.8], "format": ".1f"}},
    "y2": {"field": "h2"},
    "color": {"field": "m", "type": "nominal", "scale": {"domain": ["MPI_Glac1D_P3","MPI_Ice6G_P3","MPI_Ice6G_P2","MPI_Ice6G_P2_noMW","MPI_Ice6G_P2_glob","MPI_Glac1D_PTK","TraCE-ALL","TraCE-GHG","TraCE-ORB","Famous"], "range": ["#882E72","#1965B0","#7BAFDE","#4EB265","#CAE0AB","#F7F056","#F4A736","#F28C5C","#E3242B","#A0594F"]},
      "legend": {"orient": "none", "legendX": -1, "legendY": -1, "columns": 2, "title": null, "strokeColor": "black", "fillColor": "white", "padding": 10, "labelFontSize": 15.5, "labelColor": "black", "labelFont": "Liberation Sans", "symbolSize": 100, "rowPadding": 2.5, "columnPadding": 13, "labelOffset": 8, "symbolOpacity": 1, "symbolStrokeWidth": 0, "labelExpr": "datum.label == 'MPI_Glac1D_PTK' ? datum.label + '\u00a0\u00a0\u00a0\u00a0\u00a0\u00a0' : datum.label"}}
   }},
  {"data": {"name": "d"}, "transform": [{"filter": "datum.p == 'd'"}], "mark": {"type": "point", "filled": true, "size": 50, "opacity": 1},
   "encoding": {
    "xOffset": {"field": "m", "type": "nominal", "scale": {"domain": ["MPI_Glac1D_P3","MPI_Ice6G_P3","MPI_Ice6G_P2","MPI_Ice6G_P2_noMW","MPI_Ice6G_P2_glob","MPI_Glac1D_PTK","TraCE-ALL","TraCE-GHG","TraCE-ORB","Famous"], "paddingInner": 0, "paddingOuter": 0.6}},
    "y": {"field": "v", "type": "quantitative", "title": "IQD [z-values]", "scale": {"domain": [0.366, 0.838], "nice": false, "zero": false}, "axis": {"values": [0.4, 0.5, 0.6, 0.7, 0.8], "format": ".1f"}},
    "color": {"field": "m", "type": "nominal", "scale": {"domain": ["MPI_Glac1D_P3","MPI_Ice6G_P3","MPI_Ice6G_P2","MPI_Ice6G_P2_noMW","MPI_Ice6G_P2_glob","MPI_Glac1D_PTK","TraCE-ALL","TraCE-GHG","TraCE-ORB","Famous"], "range": ["#882E72","#1965B0","#7BAFDE","#4EB265","#CAE0AB","#F7F056","#F4A736","#F28C5C","#E3242B","#A0594F"]},
      "legend": {"orient": "none", "legendX": -1, "legendY": -1, "columns": 2, "title": null, "strokeColor": "black", "fillColor": "white", "padding": 10, "labelFontSize": 15.5, "labelColor": "black", "labelFont": "Liberation Sans", "symbolSize": 100, "rowPadding": 2.5, "columnPadding": 13, "labelOffset": 8, "symbolOpacity": 1, "symbolStrokeWidth": 0, "labelExpr": "datum.label == 'MPI_Glac1D_PTK' ? datum.label + '\u00a0\u00a0\u00a0\u00a0\u00a0\u00a0' : datum.label"}},
    "shape": {"field": "m", "type": "nominal", "scale": {"domain": ["MPI_Glac1D_P3","MPI_Ice6G_P3","MPI_Ice6G_P2","MPI_Ice6G_P2_noMW","MPI_Ice6G_P2_glob","MPI_Glac1D_PTK","TraCE-ALL","TraCE-GHG","TraCE-ORB","Famous"], "range": ["circle","circle","circle","circle","circle","circle","circle","M-1,-0.7L-0.7,-1L0,-0.3L0.7,-1L1,-0.7L0.3,0L1,0.7L0.7,1L0,0.3L-0.7,1L-1,0.7L-0.3,0Z","M-1,-0.7L-0.7,-1L0,-0.3L0.7,-1L1,-0.7L0.3,0L1,0.7L0.7,1L0,0.3L-0.7,1L-1,0.7L-0.3,0Z","M-1,-0.7L-0.7,-1L0,-0.3L0.7,-1L1,-0.7L0.3,0L1,0.7L0.7,1L0,0.3L-0.7,1L-1,0.7L-0.3,0Z"]},
      "legend": {"orient": "none", "legendX": -1, "legendY": -1, "columns": 2, "title": null, "strokeColor": "black", "fillColor": "white", "padding": 10, "labelFontSize": 15.5, "labelColor": "black", "labelFont": "Liberation Sans", "symbolSize": 100, "rowPadding": 2.5, "columnPadding": 13, "labelOffset": 8, "symbolOpacity": 1, "symbolStrokeWidth": 0, "labelExpr": "datum.label == 'MPI_Glac1D_PTK' ? datum.label + '\u00a0\u00a0\u00a0\u00a0\u00a0\u00a0' : datum.label"}}
   }}
 ]
}
]
}
